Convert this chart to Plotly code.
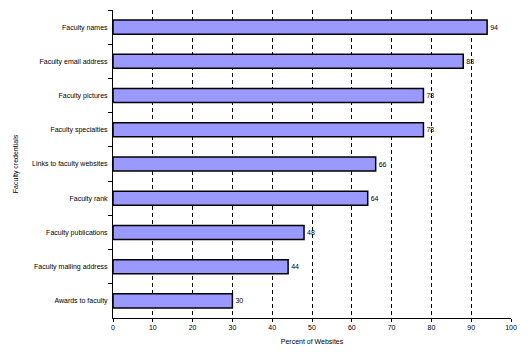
import plotly.graph_objects as go

categories = ["Faculty names", "Faculty email address", "Faculty pictures", "Faculty specialties",
              "Links to faculty websites", "Faculty rank", "Faculty publications",
              "Faculty mailing address", "Awards to faculty"]
values = [94, 88, 78, 78, 66, 64, 48, 44, 30]
x_ticks = list(range(0, 101, 10))

FONT = "Liberation Sans, Arial, sans-serif"

fig = go.Figure(go.Bar(
    x=values, y=categories, orientation="h",
    marker=dict(color="#9999FF", line=dict(color="black", width=1.5)),
    text=[str(v) for v in values], textposition="outside",
    textfont=dict(size=7, color="black", family=FONT),
    cliponaxis=False, width=0.41,
))

fig.update_layout(
    width=528, height=354,
    margin=dict(l=113, r=17, t=10, b=34),
    paper_bgcolor="white", plot_bgcolor="white",
    font=dict(family=FONT, size=7, color="black"),
    showlegend=False,
    xaxis=dict(range=[0, 100], tickvals=x_ticks, showgrid=True, gridcolor="black",
               griddash="4px,3px", gridwidth=1, showline=True, linecolor="black", linewidth=1,
               ticks="outside", ticklen=3, tickcolor="black", zeroline=False,
               title=dict(text="Percent of Websites", font=dict(size=7), standoff=8),
               tickfont=dict(size=7)),
    yaxis=dict(autorange="reversed", showline=True, linecolor="black", linewidth=1,
               ticks="outside", tickson="boundaries", ticklen=4, tickcolor="black",
               showgrid=False, ticklabelstandoff=3,
               title=dict(text="Faculty credentials", font=dict(size=7), standoff=12),
               tickfont=dict(size=7)),
)

fig.write_html("out.html")
